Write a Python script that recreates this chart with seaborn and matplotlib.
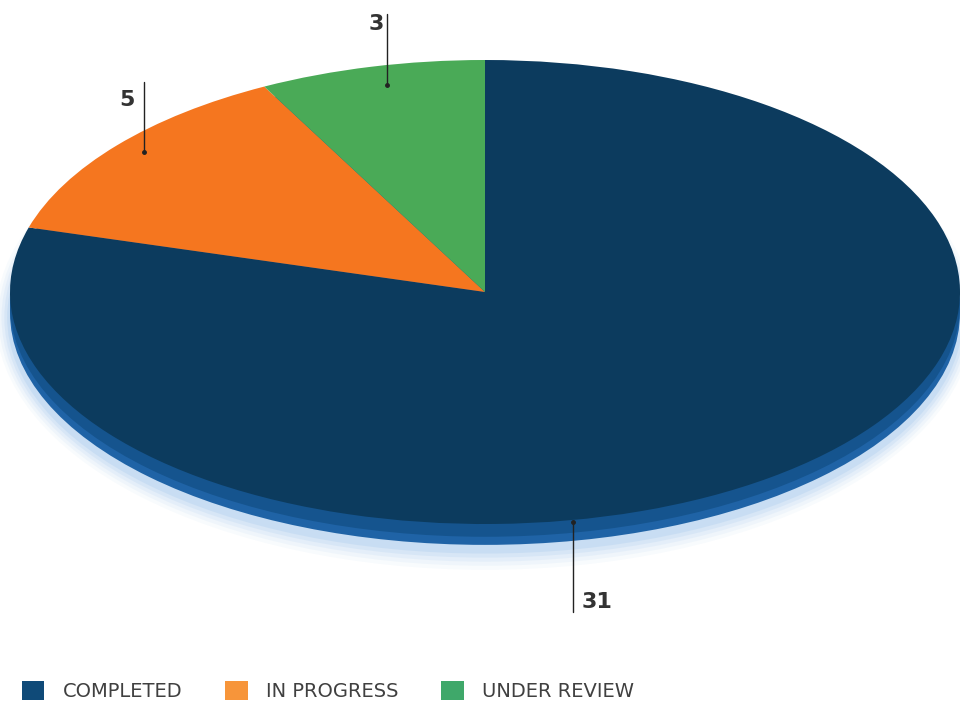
import matplotlib
matplotlib.use("Agg")
import matplotlib.pyplot as plt
from matplotlib.patches import Ellipse, Patch
import seaborn as sns

# ---- data ----
categories = ["COMPLETED", "IN PROGRESS", "UNDER REVIEW"]
values = [31, 5, 3]
label_texts = ["31", "5", "3"]

# ---- style ----
pie_colors = ["#0c3b5e", "#f5761f", "#4aaa57"]
legend_colors = ["#0f4a78", "#f7953a", "#3fa86a"]

sns.set_theme(style="white")
plt.rcParams["font.family"] = ["DejaVu Sans"]

W, H = 960, 706
fig = plt.figure(figsize=(W / 100, H / 100), dpi=100)
ax = fig.add_axes([0, 0, 1, 1])

# pixel geometry of the ellipse
cx, cy, rx, ry = 485, 292, 475, 232
def px(x, y):
    return ((x - cx) / rx, (cy - y) / ry)

# glow below the disc
for i, a in enumerate([0.05, 0.07, 0.09, 0.12, 0.16]):
    g = 5 - i
    ax.add_patch(Ellipse((0, -0.11), 2 + g * 0.012, 2 + g * 0.035,
                         facecolor="#7fb2e5", edgecolor="none", alpha=a, zorder=1))
# rim (thickness)
ax.add_patch(Ellipse((0, -0.09), 2.0, 2.0, facecolor="#1f63a6", edgecolor="none", zorder=2))
ax.add_patch(Ellipse((0, -0.055), 2.0, 2.0, facecolor="#15548e", edgecolor="none", zorder=2))

wedges, _ = ax.pie(values, colors=pie_colors, startangle=90, counterclock=False,
                   radius=1.0, center=(0, 0), frame=True,
                   wedgeprops=dict(linewidth=0))
for w in wedges:
    w.set_zorder(3)
ax.set_aspect("auto")
ax.set_xlim(px(0, 0)[0], px(W, 0)[0])
ax.set_ylim(px(0, H)[1], px(0, 0)[1])
ax.axis("off")

# leader lines + labels (layout in pixel space)
label_layout = [
    # (line x, line start y, line end y at slice, text x, text y)
    (573, 612, 522, 597, 602),
    (144, 82, 152, 127, 100),
    (387, 14, 85, 376, 24),
]
for txt, (lx, ly0, ly1, tx, ty) in zip(label_texts, label_layout):
    x0, y0 = px(lx, ly0)
    x1, y1 = px(lx, ly1)
    ax.plot([x0, x1], [y0, y1], color="#222222", lw=1.0, zorder=5)
    ax.plot([x1], [y1], marker="o", ms=2.5, color="#222222", zorder=5)
    ax.text(*px(tx, ty), txt, ha="center", va="center", fontsize=16,
            fontweight="bold", color="#333333", zorder=6)

handles = [Patch(facecolor=c, edgecolor="none") for c in legend_colors]
fig.legend(handles, categories, loc="center left", bbox_to_anchor=(0.023, 1 - 691 / H),
           ncol=3, frameon=False, fontsize=14, handlelength=1.15, handleheight=1.15,
           handletextpad=0.95, columnspacing=2.2, labelcolor="#404040", borderaxespad=0,
           borderpad=0)

fig.savefig("out.png", dpi=100)
